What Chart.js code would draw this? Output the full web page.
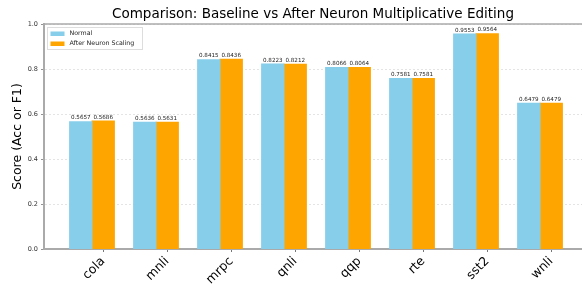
<!DOCTYPE html>
<html>
<head>
<meta charset="utf-8">
<script src="https://cdn.jsdelivr.net/npm/chart.js@4/dist/chart.umd.min.js"></script>
<style>
  html, body { margin: 0; padding: 0; background: #fff; }
  #wrap { width: 582px; height: 284px; position: relative; }
</style>
</head>
<body>
<div id="wrap"><canvas id="bargraph"></canvas></div>
<script>
// data
var categories = ["cola", "mnli", "mrpc", "qnli", "qqp", "rte", "sst2", "wnli"];
var normalScores = [0.5657, 0.5636, 0.8415, 0.8223, 0.8066, 0.7581, 0.9553, 0.6479];
var scaledScores = [0.5686, 0.5631, 0.8436, 0.8212, 0.8064, 0.7581, 0.9564, 0.6479];
var seriesNames = ["Normal", "After Neuron Scaling"];
var yTicks = [0, 0.2, 0.4, 0.6, 0.8, 1.0];

var FONT = "'DejaVu Sans', sans-serif";
var barWidth = 0.35; // each bar, in category units

// value labels over each bar
var valueLabels = {
  id: 'valueLabels',
  afterDatasetsDraw: function (chart) {
    var ctx = chart.ctx;
    ctx.save();
    ctx.font = "5.6px " + FONT;
    ctx.fillStyle = '#222';
    ctx.textAlign = 'center';
    ctx.textBaseline = 'bottom';
    chart.data.datasets.forEach(function (ds, di) {
      chart.getDatasetMeta(di).data.forEach(function (bar, i) {
        ctx.fillText(ds.data[i].y.toFixed(4), bar.x, bar.y - 1);
      });
    });
    ctx.restore();
  }
};

// top spine + boxed legend in the upper left of the plot
var frameAndLegend = {
  id: 'frameAndLegend',
  afterDraw: function (chart) {
    var ctx = chart.ctx, a = chart.chartArea;
    ctx.save();
    ctx.strokeStyle = '#aaa';
    ctx.lineWidth = 1.5;
    ctx.beginPath();
    ctx.moveTo(a.left, a.top);
    ctx.lineTo(a.right, a.top);
    ctx.stroke();

    var x = a.left + 3.5, y = a.top + 3.5;
    ctx.fillStyle = 'rgba(255,255,255,0.85)';
    ctx.strokeStyle = '#ddd';
    ctx.lineWidth = 1;
    ctx.fillRect(x, y, 95, 22);
    ctx.strokeRect(x, y, 95, 22);
    ctx.font = "6.3px " + FONT;
    ctx.textBaseline = 'middle';
    ctx.textAlign = 'left';
    chart.data.datasets.forEach(function (ds, i) {
      var rowY = y + 6 + i * 10;
      ctx.fillStyle = ds.backgroundColor;
      ctx.fillRect(x + 3, rowY - 2, 14, 4.5);
      ctx.fillStyle = '#222';
      ctx.fillText(ds.label, x + 22, rowY);
    });
    ctx.restore();
  }
};

new Chart(document.getElementById('bargraph'), {
  type: 'bar',
  data: {
    datasets: [{
      label: seriesNames[0],
      backgroundColor: 'rgb(135,206,235)',
      borderWidth: 0,
      inflateAmount: 0.5,
      data: normalScores.map(function (v, i) { return { x: i, y: v }; })
    }, {
      label: seriesNames[1],
      backgroundColor: 'rgb(255,165,0)',
      borderWidth: 0,
      inflateAmount: 0.5,
      data: scaledScores.map(function (v, i) { return { x: i, y: v }; })
    }]
  },
  plugins: [valueLabels, frameAndLegend],
  options: {
    responsive: true,
    maintainAspectRatio: false,
    animation: false,
    categoryPercentage: barWidth * 2,
    barPercentage: 1,
    layout: { padding: { left: 0, right: 0, top: 0, bottom: 0 } },
    plugins: {
      legend: { display: false },
      tooltip: { enabled: false },
      title: {
        display: true,
        fullSize: false,
        text: 'Comparison: Baseline vs After Neuron Multiplicative Editing',
        color: '#000',
        font: { family: FONT, size: 13.5, weight: 'normal', lineHeight: 1.2 },
        padding: { top: 6.4, bottom: 1.4 }
      }
    },
    scales: {
      x: {
        type: 'linear',
        offset: false,
        min: -0.75,
        max: 7.656,
        z: 1,
        afterFit: function (s) { s.height = 35; },
        afterBuildTicks: function (s) {
          s.ticks = categories.map(function (c, i) { return { value: i + barWidth / 2 }; });
        },
        ticks: {
          autoSkip: false,
          minRotation: 45,
          maxRotation: 45,
          padding: 2,
          color: '#000',
          font: { family: FONT, size: 12.5 },
          callback: function (v, i) { return categories[i]; }
        },
        grid: { offset: false, drawOnChartArea: false, drawTicks: true, tickLength: 3, color: '#777' },
        border: { display: true, color: '#aaa', width: 2 }
      },
      y: {
        min: 0,
        max: 1,
        afterFit: function (s) { s.width = 44; },
        afterBuildTicks: function (s) {
          s.ticks = yTicks.map(function (v) { return { value: v }; });
        },
        title: {
          display: true,
          text: 'Score (Acc or F1)',
          color: '#000',
          font: { family: FONT, size: 12.5 },
          padding: { top: 10, bottom: 0 }
        },
        ticks: {
          color: '#333',
          padding: 3,
          font: { family: FONT, size: 6.5 },
          callback: function (v) { return v.toFixed(1); }
        },
        grid: { color: '#ddd', lineWidth: 0.8, tickLength: 3, tickColor: '#777', tickBorderDash: [] },
        border: { display: true, color: '#aaa', width: 2, dash: [2, 2] }
      }
    }
  }
});
</script>
</body>
</html>
